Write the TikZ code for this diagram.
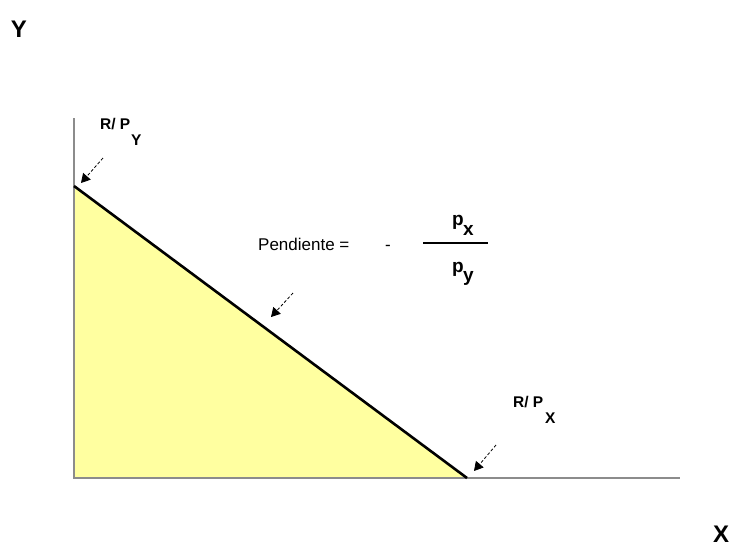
\documentclass[tikz,border=0pt]{standalone}
\usepackage{fontspec}
\setmainfont{Liberation Sans}
\usetikzlibrary{arrows.meta}
\begin{document}
\begin{tikzpicture}[x=1pt,y=-1pt,
  axis/.style={draw=black!45,line width=2.6pt},
  budget/.style={draw=black,line width=2.6pt},
  pointer/.style={densely dashed,line width=0.8pt,-{Triangle[width=10pt,length=9pt]}},
  lbl/.style={font=\bfseries\fontsize{15.5}{18}\selectfont,inner sep=0pt},
  frac/.style={font=\bfseries\fontsize{19}{22}\selectfont,inner sep=0pt},
  axlbl/.style={font=\bfseries\fontsize{24}{28}\selectfont,inner sep=0pt},
  txt/.style={font=\fontsize{17}{20}\selectfont,inner sep=0pt}]
\useasboundingbox (0,0) rectangle (737,547);
\coordinate (O) at (74,478);
\coordinate (top) at (74,118);
\coordinate (right) at (680,478);
\coordinate (A) at (74,186);
\coordinate (B) at (467,478);
\fill[fill={rgb,255:red,255;green,255;blue,160}] (A) -- (O) -- (B) -- cycle;
\draw[axis] (top) -- (O) -- (right);
\draw[budget] (A) -- (B);
\node[axlbl] (ylab) at (19,29) {Y};
\node[axlbl] (xlab) at (721,534) {X};
\node[lbl,anchor=base west] (ry) at (100,129) {R/ P};
\node[lbl,anchor=base west] (rysub) at (131,145) {Y};
\node[lbl,anchor=base west] (rx) at (513,407) {R/ P};
\node[lbl,anchor=base west] (rxsub) at (545,423) {X};
\node[txt,anchor=base west] (pend) at (258,250) {Pendiente =};
\node[txt,anchor=base] (minus) at (388,250) {-};
\node[frac,anchor=base] (px) at (458,225) {p};
\node[frac,anchor=base west] (pxs) at (463,235) {x};
\node[frac,anchor=base] (py) at (458,272) {p};
\node[frac,anchor=base west] (pys) at (463,281) {y};
\coordinate (f1) at (423,243);
\coordinate (f2) at (488,243);
\draw[line width=1.6pt] (f1) -- (f2);
\coordinate (a1s) at (103,158);
\coordinate (a1e) at (81,183);
\coordinate (a2s) at (293,293);
\coordinate (a2e) at (271,317);
\coordinate (a3s) at (496,445);
\coordinate (a3e) at (474,471);
\draw[pointer] (a1s) -- (a1e);
\draw[pointer] (a2s) -- (a2e);
\draw[pointer] (a3s) -- (a3e);
\end{tikzpicture}
\end{document}
